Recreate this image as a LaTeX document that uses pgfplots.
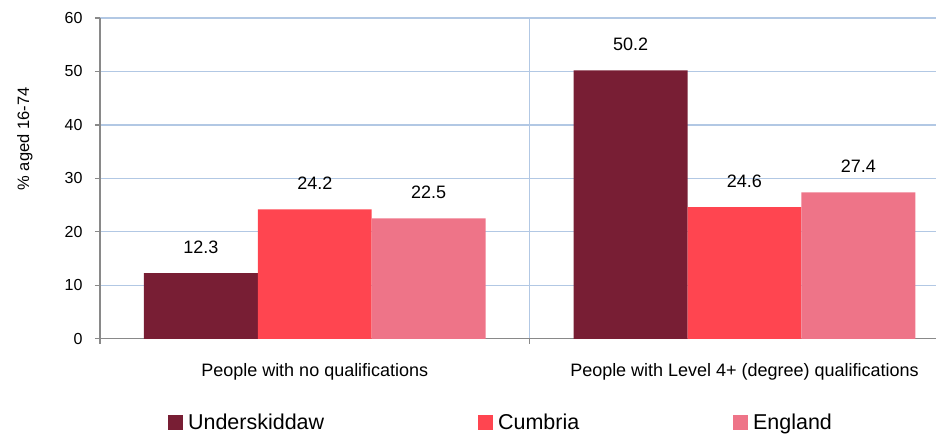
\documentclass[border=0pt]{standalone}
\usepackage{pgfplots}
\pgfplotsset{compat=1.18}
\usepackage{fontspec}
\setmainfont{Liberation Sans}
\definecolor{cU}{RGB}{120,30,52}
\definecolor{cC}{RGB}{255,69,80}
\definecolor{cE}{RGB}{238,116,136}
\definecolor{gridc}{RGB}{178,200,228}
\definecolor{axc}{RGB}{137,137,137}
\begin{document}
\begin{tikzpicture}
\begin{axis}[
 scale only axis, width=837bp, height=321bp,
 xmin=-0.5, xmax=1.4465, ymin=0, ymax=60,
 ybar=0pt, bar width=114bp,
 /pgf/number format/assume math mode=true,
 axis x line=bottom, axis y line=left,
 axis line style={-, axc, line width=1.2bp},
 tick style={axc, line width=1.2bp}, tick align=outside, major tick length=5bp,
 ytick={0,10,...,60},
 ymajorgrids, xmajorgrids, grid style={gridc, line width=1.3bp},
 xtick={-0.5,0.5}, xticklabels={},
 extra x ticks={0,1},
 extra x tick labels={People with no qualifications, People with Level 4+ (degree) qualifications},
 extra x tick style={major tick length=0pt, grid=none, tick label style={font=\fontsize{18bp}{21bp}\selectfont, yshift=-21bp}},
 yticklabel style={font=\fontsize{16bp}{19bp}\selectfont, xshift=-9bp},
 ylabel={\% aged 16-74},
 ylabel style={font=\fontsize{16.5bp}{19bp}\selectfont, at={(axis description cs:0,0.623)}, anchor=center, yshift=75bp},
 nodes near coords,
 nodes near coords style={font=\fontsize{18bp}{21bp}\selectfont, yshift=16bp, /pgf/number format/.cd, fixed, fixed zerofill, precision=1},
 legend style={at={(axis description cs:0,0)}, anchor=west, xshift=68bp, yshift=-84bp, draw=none, fill=none, font=\fontsize{21.5bp}{24bp}\selectfont, inner sep=0pt, /tikz/every even column/.append style={column sep=152bp}},
 legend columns=3,
 legend image code/.code={\fill[#1] (0bp,-7.5bp) rectangle (15bp,7.5bp); \path (18bp,0bp);},
]
\addplot[fill=cU, draw=none] coordinates {(0,12.3) (1,50.2)};
\addplot[fill=cC, draw=none] coordinates {(0,24.2) (1,24.6)};
\addplot[fill=cE, draw=none] coordinates {(0,22.5) (1,27.4)};
\legend{Underskiddaw, Cumbria, England}
\coordinate (O) at (rel axis cs:0,0);
\coordinate (T) at (rel axis cs:1,1);
\end{axis}
\useasboundingbox ([xshift=-100bp,yshift=-95bp]O) rectangle ([yshift=18bp]T);
\end{tikzpicture}
\end{document}
